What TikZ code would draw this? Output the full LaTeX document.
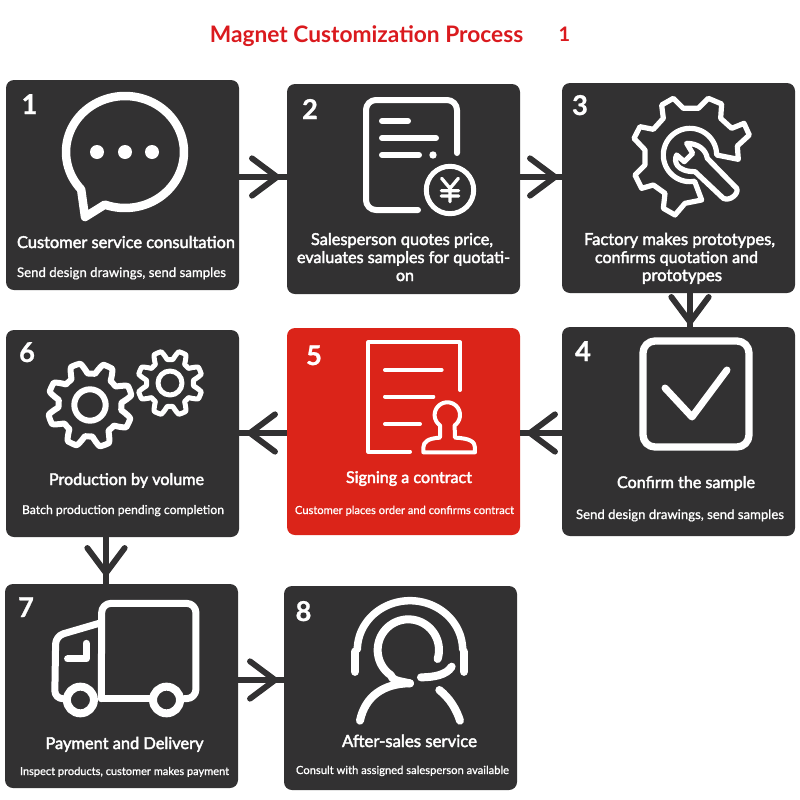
\documentclass[tikz,border=0pt]{standalone}
\usepackage{fontspec}
\usepackage{graphicx}
\usetikzlibrary{decorations.markings}
\setmainfont[FakeBold=1]{Lato}
\newfontfamily\midfont[FakeBold=2.5]{Lato}
\newfontfamily\headfont{Lato Bold}
\newfontfamily\numfont[FakeBold=0.8]{Lato Bold}
\definecolor{boxdark}{HTML}{323132}
\definecolor{boxred}{HTML}{DB2419}
\definecolor{titlered}{HTML}{DA1A1E}
\newdimen\labw
\tikzset{
  panel/.style={rounded corners=6pt,inner sep=0pt,outer sep=0pt},
  darkpanel/.style={panel,fill=boxdark},
  redpanel/.style={panel,fill=boxred},
  lab/.style={anchor=base,inner sep=0pt,outer sep=0pt,text=white},
  numlab/.style={lab,font=\numfont\fontsize{20.5pt}{20.5pt}\selectfont},
  icon/.style={draw=white,line cap=round,line join=round,line width=#1*0.75pt},
  icon/.default=7,
  flow/.style={draw=boxdark,line width=4.4pt,postaction={decorate,decoration={markings,
    mark=at position #1 with {\draw[draw=boxdark,line width=4.4pt,line cap=round,line join=miter] (-18.75pt,14pt) -- (0pt,0pt) -- (-18.75pt,-14pt);}}}},
}
\newcommand\pnl[6]{\node[#1,minimum height=#6*0.75pt,minimum width=#5*0.75pt,anchor=north west] (#2) at (#3,#4) {};}
\newcommand\mainlab[5]{\node[lab] (#1) at (#2,#3) {\labw=#4pt\labw=0.75\labw\resizebox{\labw}{!}{\midfont #5}};}
\newcommand\sublab[5]{\node[lab] (#1) at (#2,#3) {\labw=#4pt\labw=0.75\labw\resizebox{\labw}{!}{#5}};}
\newcommand\gearicon[7]{% cx cy mean amp k t0 lw
  \draw[icon=#7] plot[domain=0:360,samples=241] ({#1+(#3+#4*max(-1,min(1,#5*cos(8*(\x-#6)))))*cos(\x)},{#2+(#3+#4*max(-1,min(1,#5*cos(8*(\x-#6)))))*sin(\x)}) -- cycle;}
\begin{document}
\begin{tikzpicture}[x=0.75pt,y=-0.75pt]
\useasboundingbox (0,0) rectangle (800,800);
% panels
\pnl{darkpanel}{n1}{6}{80}{233}{210}
\pnl{darkpanel}{n2}{287}{84}{233}{210}
\pnl{darkpanel}{n3}{562}{83}{233}{210}
\pnl{darkpanel}{n4}{562}{327}{233}{209}
\pnl{redpanel}{n5}{287}{328}{233}{207}
\pnl{darkpanel}{n6}{6}{330}{233}{207}
\pnl{darkpanel}{n7}{5}{584}{233}{204}
\pnl{darkpanel}{n8}{284}{586}{233}{204}
% connectors
\draw[flow=-7.5pt] (n1.east |- 0,177) -- (n2.west |- 0,177);
\draw[flow=-5.25pt] (n2.east |- 0,177) -- (n3.west |- 0,177);
\draw[flow=-3.75pt] (n3.south -| 690,0) -- (n4.north -| 690,0);
\draw[flow=-7.5pt] (n4.west |- 0,433) -- (n5.east |- 0,433);
\draw[flow=-8.25pt] (n5.west |- 0,433) -- (n6.east |- 0,433);
\draw[flow=-8.25pt] (n6.south -| 106,0) -- (n7.north -| 106,0);
\draw[flow=-6.75pt] (n7.east |- 0,680) -- (n8.west |- 0,680);
% title
\node[lab,text=titlered] (title) at (366.5,42) {\resizebox{235pt}{!}{\headfont Magnet Customization Process}};
\node[lab,text=titlered,font=\headfont\fontsize{15pt}{15pt}\selectfont] (titlenum) at (564.5,41) {1};
% numbers
\node[numlab] (num1) at (29.5,114) {1};
\node[numlab] (num2) at (310,119) {2};
\node[numlab] (num3) at (580,115) {3};
\node[numlab] (num4) at (583,361) {4};
\node[numlab] (num5) at (314,365) {5};
\node[numlab] (num6) at (27,362) {6};
\node[numlab] (num7) at (26,617) {7};
\node[numlab] (num8) at (303.5,621) {8};
% texts
\mainlab{t1}{126}{248}{218}{Customer service consultation}
\sublab{s1}{121.5}{277}{209}{Send design drawings, send samples}
\mainlab{t2a}{402}{245}{182}{Salesperson quotes price,}
\mainlab{t2b}{403.5}{263}{213}{evaluates samples for quotati-}
\mainlab{t2c}{405}{281}{18}{on}
\mainlab{t3a}{679.5}{245}{191}{Factory makes prototypes,}
\mainlab{t3b}{676.5}{263}{163}{confirms quotation and}
\mainlab{t3c}{682}{281}{80}{prototypes}
\mainlab{t4}{686}{488}{138}{Confirm the sample}
\sublab{s4}{680}{519}{208}{Send design drawings, send samples}
\mainlab{t5}{409}{483}{126}{Signing a contract}
\sublab{s5}{404.5}{514}{219}{Customer places order and confirms contract}
\mainlab{t6}{126.5}{485}{155}{Production by volume}
\sublab{s6}{123}{514}{202}{Batch production pending completion}
\mainlab{t7}{124.5}{749}{158}{Payment and Delivery}
\sublab{s7}{124.5}{775}{209}{Inspect products, customer makes payment}
\mainlab{t8}{409.5}{747}{135}{After-sales service}
\sublab{s8}{402.5}{774}{213}{Consult with assigned salesperson available}
% icon 1: speech bubble
\draw[icon=8.5] plot[domain=138:470,samples=90] ({125+59*cos(\x)},{152+56*sin(\x)}) -- (85,217) -- cycle;
\fill[white] (97,152) circle[radius=7] (125,152) circle[radius=7] (152,152) circle[radius=7];
% icon 2: quotation sheet
\draw[icon=6,rounded corners=7.5pt] (457,153) -- (457,100) -- (366,100) -- (366,210) -- (418,210);
\draw[icon=6] (382,121) -- (408,121) (382,138) -- (436,138) (382,155) -- (419,155);
\fill[white] (433,155) circle[radius=3.7];
\draw[icon=5] (450,190) circle[radius=23.7];
\begin{scope}[shift={(420,160)},scale=0.3333]
\draw[icon=3.3] (65,55) -- (90,85) -- (115,55) (90,85) -- (90,125) (64,92) -- (116,92) (64,108) -- (116,108);
\end{scope}
% icon 3: gear with wrench
\begin{scope}[shift={(620,90)},scale=0.3333]
\draw[icon=5.2] plot[domain=0:-280,samples=50] ({210+80*cos(\x)},{195+80*sin(\x)}) -- (245,330) -- (195,340) -- (165,375) -- (130,355) -- (135,310) -- (100,285) -- (65,295) -- (45,255) -- (75,225) -- (75,180) -- (42,145) -- (60,110) -- (100,118) -- (130,85) -- (125,45) -- (160,25) -- (190,55) -- (235,55) -- (265,25) -- (305,42) -- (302,85) -- (335,115) -- (372,100) -- (388,135) -- (352,168) -- (355,208) -- cycle;
\draw[icon=5.2] (350,295) -- (262,205) .. controls (258,180) and (235,160) .. (200,160) -- (218,190) -- (193,215) -- (170,195) .. controls (160,215) and (170,245) .. (225,245) -- (310,325) .. controls (330,335) and (358,310) .. (350,295) -- cycle;
\end{scope}
% icon 4: check box
\draw[icon=7.3,rounded corners=9pt] (643,341) rectangle (749,447);
\draw[icon=7] (665,388) -- (692,417) -- (727,370);
% icon 5: contract with stamp
\begin{scope}[shift={(360,335)},scale=0.3333]
\draw[icon=4] (300,165) -- (300,22) -- (25,22) -- (25,350) -- (150,350);
\draw[icon=4] (75,105) -- (245,105) (75,185) -- (220,185) (75,267) -- (180,267);
\draw[icon=4] plot[domain=125:415,samples=50] ({262+38*cos(\x)},{240+38*sin(\x)}) -- (285,308) .. controls (330,310) and (345,320) .. (345,338) -- (345,352) -- (190,352) -- (190,338) .. controls (190,320) and (205,310) .. (240,308) -- cycle;
\end{scope}
% icon 6: two gears
\gearicon{90}{405}{37}{5.5}{1.7}{25}{6}
\draw[icon=6] (90,405) circle[radius=15.7];
\gearicon{170}{383}{28}{4.5}{1.7}{22.5}{5}
\draw[icon=5] (170,383) circle[radius=12];
% icon 7: truck
\begin{scope}[shift={(0,560)},xscale=0.3378,yscale=0.3333]
\draw[icon=7,rounded corners=7pt] (300,416) -- (301,130) -- (580,130) -- (580,416) -- (545,416);
\draw[icon=7] (301,416) -- (445,416);
\draw[icon=7,rounded corners=6pt] (300,188) -- (165,228) -- (162,416) -- (185,416);
\draw[icon=7] (255,250) -- (255,297) -- (200,297);
\draw[icon=8] (238,420) circle[radius=40] (493,420) circle[radius=40];
\end{scope}
% icon 8: support agent
\begin{scope}[shift={(340,600)},scale=0.3333]
\draw[icon=7.5] plot[domain=181:359,samples=60] ({210+158*cos(\x)},{150+148*sin(\x)});
\draw[icon=8.5] (45,155) -- (45,215) (372,155) -- (372,215);
\draw[icon=8] plot[domain=17:-235,samples=50] ({205+92*cos(\x)},{150+92*sin(\x)}) .. controls (160,240) .. (210,250);
\draw[icon=8] (60,362) .. controls (75,290) and (130,250) .. (210,250);
\draw[icon=8] (298,270) .. controls (330,295) and (350,330) .. (360,362);
\draw[icon=8] (243,232) .. controls (280,232) and (320,225) .. (335,200);
\end{scope}
\end{tikzpicture}
\end{document}
